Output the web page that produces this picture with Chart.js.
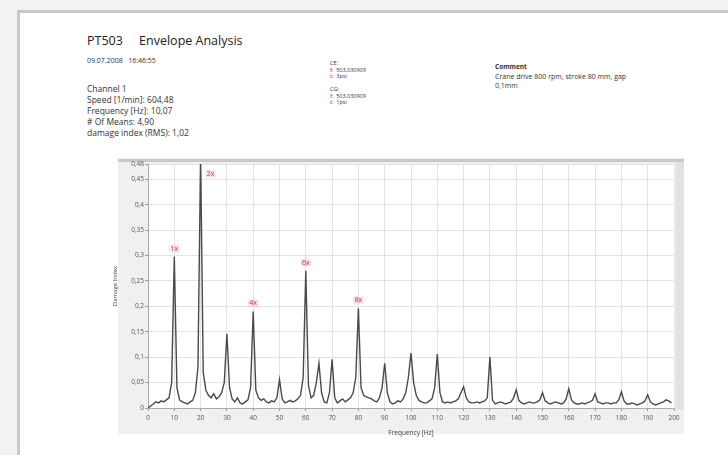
<!DOCTYPE html>
<html><head><meta charset="utf-8">
<script src="https://cdn.jsdelivr.net/npm/chart.js@4/dist/chart.umd.min.js"></script>
<style>
html,body{margin:0;padding:0;width:728px;height:455px;overflow:hidden;background:#f2f2f2;font-family:"Open Sans",sans-serif;}
#card{position:absolute;left:17px;top:10px;width:730px;height:470px;background:#fff;border:3px solid #c2cad2;box-sizing:border-box;}
.t{position:absolute;white-space:nowrap;color:#333;line-height:1;}
#wrap{position:absolute;left:112px;top:150px;width:578px;height:295px;}
</style></head>
<body>
<div id="card"></div>
<div class="t" style="left:87px;top:35px;font-size:12.5px;color:#222;">PT503&nbsp;&nbsp;&nbsp;&nbsp;&nbsp;Envelope Analysis</div>
<div class="t" style="left:87px;top:57px;font-size:7px;">09.07.2008&nbsp;&nbsp;&nbsp;16:46:55</div>
<div class="t" style="left:87px;top:83px;font-size:8.5px;line-height:11px;">Channel 1<br>Speed [1/min]: 604,48<br>Frequency [Hz]: 10,07<br># Of Means: 4,90<br>damage index (RMS): 1,02</div>
<div class="t" style="left:330px;top:60px;font-size:5.5px;line-height:6.5px;">CE:<br>f:&nbsp; 503,030909<br>t:&nbsp; 3psi</div>
<div class="t" style="left:330px;top:86px;font-size:5.5px;line-height:6.5px;">CG:<br>f:&nbsp; 503,030909<br>t:&nbsp; 1psi</div>
<div class="t" style="left:495px;top:64px;font-size:6.5px;font-weight:bold;">Comment</div>
<div class="t" style="left:495px;top:73px;font-size:7px;line-height:8.5px;">Crane drive 800 rpm, stroke 80 mm, gap<br>0,1mm</div>
<div id="wrap"><canvas id="c"></canvas></div>
<script>
const freqs = [];
for (let f = 0; f <= 199; f++) freqs.push(f);
const damage = [
0.000,0.004,0.008,0.012,0.010,0.014,0.012,0.016,0.020,0.050,
0.298,0.040,0.016,0.012,0.010,0.008,0.012,0.015,0.030,0.080,
0.500,0.070,0.035,0.025,0.020,0.028,0.018,0.022,0.030,0.050,
0.146,0.040,0.018,0.012,0.020,0.010,0.008,0.012,0.016,0.040,
0.190,0.035,0.020,0.015,0.018,0.012,0.010,0.014,0.012,0.020,
0.056,0.018,0.010,0.012,0.015,0.012,0.014,0.018,0.025,0.060,
0.270,0.045,0.020,0.025,0.050,0.088,0.030,0.012,0.010,0.030,
0.096,0.020,0.010,0.014,0.018,0.012,0.016,0.020,0.030,0.060,
0.196,0.040,0.025,0.022,0.020,0.018,0.014,0.012,0.020,0.040,
0.088,0.030,0.012,0.008,0.010,0.014,0.012,0.018,0.030,0.060,
0.108,0.050,0.025,0.015,0.012,0.010,0.010,0.014,0.018,0.040,
0.106,0.030,0.012,0.010,0.012,0.010,0.012,0.014,0.018,0.030,
0.042,0.020,0.012,0.010,0.010,0.012,0.010,0.012,0.014,0.020,
0.100,0.015,0.008,0.010,0.012,0.010,0.008,0.010,0.012,0.020,
0.036,0.015,0.010,0.008,0.010,0.012,0.010,0.010,0.012,0.016,
0.030,0.014,0.010,0.008,0.010,0.012,0.010,0.008,0.010,0.018,
0.038,0.016,0.010,0.008,0.008,0.010,0.008,0.010,0.012,0.015,
0.028,0.012,0.010,0.008,0.010,0.010,0.008,0.010,0.010,0.016,
0.032,0.014,0.008,0.008,0.010,0.008,0.006,0.008,0.010,0.014,
0.026,0.012,0.008,0.006,0.008,0.010,0.012,0.016,0.014,0.010
];
const yTicks = [0,0.05,0.1,0.15,0.2,0.25,0.3,0.35,0.4,0.45,0.48];
const xTicks = [0,10,20,30,40,50,60,70,80,90,100,110,120,130,140,150,160,170,180,190,200];
const annotFreqs = [10,20,40,60,80];
const annotLabels = ['1x','2x','4x','6x','8x'];

const bgPlugin = {
  id:'bg',
  beforeDraw(chart){
    const {ctx, chartArea:a} = chart;
    ctx.save();
    ctx.fillStyle='#f0f0f0';
    ctx.fillRect(a.left-30, a.top-6, a.right-a.left+40, a.bottom-a.top+32);
    ctx.fillStyle='#ffffff';
    ctx.fillRect(a.left, a.top, a.right-a.left, a.bottom-a.top);
    ctx.fillStyle='#e2e2e2';
    ctx.fillRect(a.right+2, a.top-4, 8, a.bottom-a.top+6);
    ctx.fillStyle='#c9c9c9';
    ctx.fillRect(a.left-30, a.top-5, a.right-a.left+40, 3);
    ctx.restore();
  }
};
const annPlugin = {
  id:'ann',
  afterDatasetsDraw(chart){
    const {ctx, scales:{x,y}} = chart;
    ctx.save();
    ctx.font='7px "Open Sans", sans-serif';
    ctx.textBaseline='middle';
    annotFreqs.forEach((f,i)=>{
      const v = damage[freqs.indexOf(f)];
      const px = x.getPixelForValue(f);
      let tx, ty;
      if (v > y.max) { tx = px + 10; ty = y.getPixelForValue(y.max) + 10; }
      else { tx = px; ty = y.getPixelForValue(v) - 8; }
      const w = ctx.measureText(annotLabels[i]).width;
      ctx.fillStyle='rgba(240,170,190,0.3)';
      ctx.fillRect(tx - w/2 - 1.5, ty - 4, w + 3, 8);
      ctx.fillStyle='#d0305a';
      ctx.textAlign='center';
      ctx.fillText(annotLabels[i], tx, ty);
    });
    ctx.restore();
  }
};

new Chart(document.getElementById('c'), {
  type:'line',
  data:{ datasets:[{
    data: freqs.map((f,i)=>({x:f, y:damage[i]})),
    borderColor:'#4a4a4a', borderWidth:1.4, pointRadius:0, tension:0, fill:false
  }]},
  options:{
    responsive:true, maintainAspectRatio:false, animation:false,
    layout:{padding:{top:14,right:16,left:0,bottom:8}},
    plugins:{legend:{display:false}, tooltip:{enabled:false}},
    scales:{
      x:{type:'linear', min:0, max:200,
        afterBuildTicks(s){ s.ticks = xTicks.map(v=>({value:v})); },
        afterFit(s){ s.height = 29; },
        grid:{color:'#e3e3e3', drawTicks:true, tickLength:3, tickColor:'#999'},
        border:{color:'#aaa'},
        ticks:{font:{size:6.5, family:'"Open Sans", sans-serif'}, color:'#555', padding:3, maxRotation:0, autoSkip:false},
        title:{display:true, text:'Frequency [Hz]', font:{size:6.5, family:'"Open Sans", sans-serif'}, color:'#444', padding:{top:2,bottom:0}}
      },
      y:{type:'linear', min:0, max:0.48,
        afterBuildTicks(s){ s.ticks = yTicks.map(v=>({value:v})); },
        afterFit(s){ s.width = 36; },
        grid:{color:'#e3e3e3', drawTicks:true, tickLength:3, tickColor:'#999'},
        border:{color:'#aaa'},
        ticks:{font:{size:6.5, family:'"Open Sans", sans-serif'}, color:'#555', padding:1, autoSkip:false,
          callback:v=>String(Math.round(v*100)/100).replace('.',',')},
        title:{display:true, text:'Damage Index', font:{size:6, family:'"Open Sans", sans-serif'}, color:'#444', padding:{top:0,bottom:4}}
      }
    }
  },
  plugins:[bgPlugin, annPlugin]
});
</script>
</body></html>
